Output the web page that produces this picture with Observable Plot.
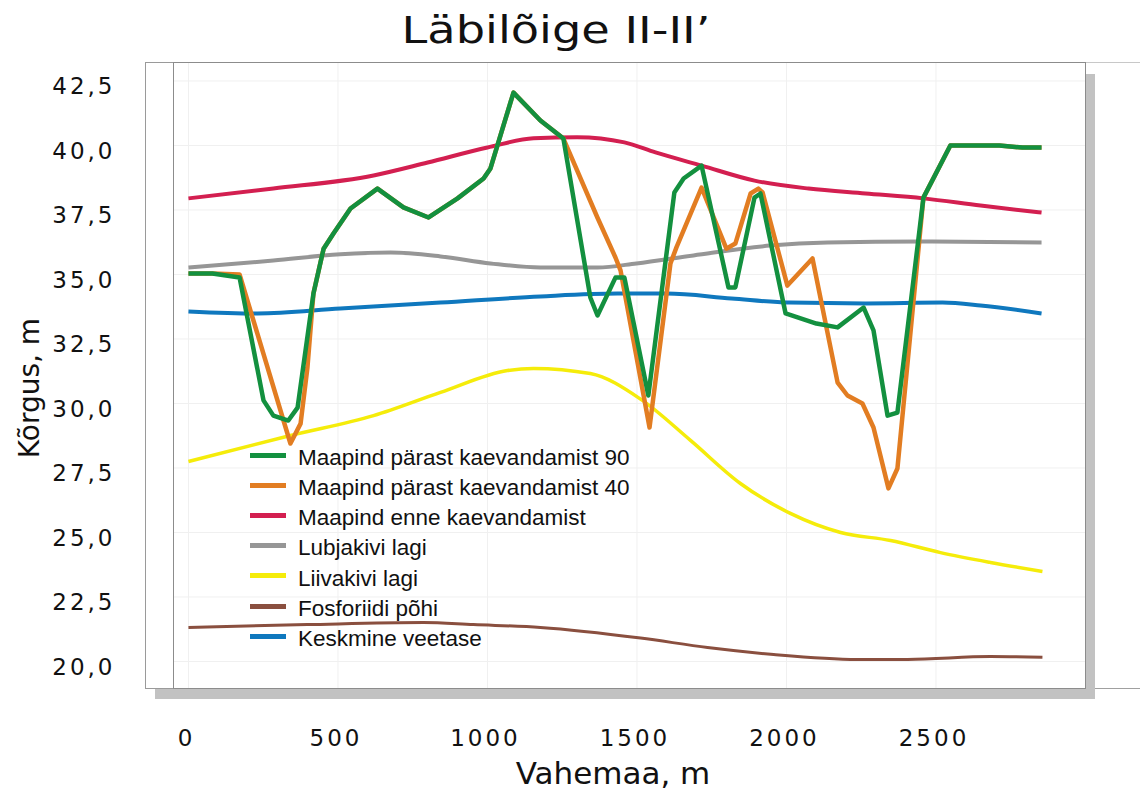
<!DOCTYPE html>
<html><head><meta charset="utf-8">
<script src="https://cdn.jsdelivr.net/npm/d3@7"></script>
<script src="https://cdn.jsdelivr.net/npm/@observablehq/plot@0.6"></script>
<style>
body{margin:0;background:#fff;}
#wrap{position:relative;width:1140px;height:795px;overflow:hidden;font-family:"DejaVu Sans",sans-serif;color:#111;}
.abs{position:absolute;}
#chart{position:absolute;left:0;top:0;}
#chart g[aria-label="y-axis tick label"], #chart g[aria-label="x-axis tick label"]{letter-spacing:3px;}
#title{position:absolute;left:556px;top:11px;font-size:37px;line-height:40px;white-space:nowrap;transform:translateX(-50%) scaleX(1.25);}
#ytitle{position:absolute;left:30px;top:388px;font-size:28px;line-height:30px;white-space:nowrap;transform:translate(-50%,-50%) rotate(-90deg);}
#xtitle{position:absolute;left:613px;top:756px;font-size:31px;line-height:34px;white-space:nowrap;transform:translateX(-50%);}
#legend{position:absolute;left:250px;top:440px;font-family:"Liberation Sans",Arial,sans-serif;font-size:22.5px;}
#legend .row{display:flex;align-items:center;height:30.2px;}
#legend .sw{width:36px;height:5px;}
#legend .lbl{margin-left:12px;line-height:1;position:relative;top:3px;white-space:nowrap;}
</style></head><body>
<div id="wrap">
  <div class="abs" style="left:155px;top:74px;width:940px;height:625px;background:#c2c2c2"></div>
  <div class="abs" style="left:145px;top:62px;width:941px;height:627px;border:1px solid #9a9a9a;background:#fff;box-sizing:border-box"></div>
  <div class="abs" style="left:1085px;top:62px;width:55px;height:1px;background:#c8c8c8"></div>
  <div class="abs" style="left:1095px;top:688px;width:45px;height:1px;background:#a0a0a0"></div>
  <div id="chart"></div>
  <div id="title">Läbilõige II-II’</div>
  <div id="ytitle">Kõrgus, m</div>
  <div id="xtitle">Vahemaa, m</div>
  <div id="legend"></div>
</div>
<script>
// ---- data ----
const seriesNames = [
  "Maapind pärast kaevandamist 90",
  "Maapind pärast kaevandamist 40",
  "Maapind enne kaevandamist",
  "Lubjakivi lagi",
  "Liivakivi lagi",
  "Fosforiidi põhi",
  "Keskmine veetase"
];
const seriesColors = ["#13903f","#e27d22","#d31f50","#969696","#f5ec0a","#8a4f3f","#0f78be"];

const yTicks = [20, 22.5, 25, 27.5, 30, 32.5, 35, 37.5, 40, 42.5];
const xTicks = [0, 500, 1000, 1500, 2000, 2500];

// Maapind pärast kaevandamist 90
const m90X = [0,80,171,251,284,334,365,418,452,485,542,632,719,803,900,987,1010,1087,1177,1254,1344,1368,1428,1458,1538,1625,1656,1716,1806,1829,1893,1913,1997,2100,2171,2258,2291,2338,2371,2458,2548,2712,2789,2853];
const m90Y = [35.04,35.04,34.88,30.12,29.53,29.34,29.84,34.26,36.0,36.59,37.56,38.33,37.6,37.21,37.95,38.72,39.11,42.05,40.97,40.27,34.11,33.41,34.88,34.88,30.31,38.18,38.72,39.22,34.5,34.5,37.98,38.14,33.49,33.1,32.95,33.72,32.83,29.53,29.65,37.98,40.0,40.0,39.92,39.92];
// Maapind pärast kaevandamist 40
const m40X = [0,80,171,341,375,398,418,452,485,542,632,719,803,900,987,1010,1087,1177,1254,1368,1428,1445,1542,1612,1632,1716,1799,1829,1880,1906,1920,2003,2087,2171,2204,2254,2291,2341,2371,2458,2548,2712,2789,2853];
const m40Y = [35.04,35.04,35.0,28.45,29.22,31.4,34.26,36.0,36.59,37.56,38.33,37.6,37.21,37.95,38.72,39.11,42.05,40.97,40.27,37.2,35.66,35.16,29.07,35.43,36.05,38.37,36.0,36.2,38.14,38.33,38.18,34.57,35.62,30.81,30.31,30.0,29.07,26.71,27.48,37.98,40.0,40.0,39.92,39.92];
// Maapind enne kaevandamist
const enneX = [0,284,619,800,1000,1154,1300,1458,1562,1716,1893,2074,2264,2458,2649,2853];
const enneY = [37.95,38.33,38.84,39.34,39.92,40.28,40.32,40.12,39.73,39.22,38.64,38.33,38.14,37.95,37.67,37.40];
// Lubjakivi lagi
const lubjX = [0,284,508,676,843,1010,1177,1368,1498,1689,1946,2137,2458,2853];
const lubjY = [35.27,35.54,35.78,35.85,35.70,35.43,35.27,35.27,35.43,35.74,36.12,36.24,36.28,36.24];
// Liivakivi lagi
const liivX = [0,341,619,843,1067,1154,1344,1512,1679,1846,2013,2181,2348,2515,2682,2856];
const liivY = [27.75,28.76,29.53,30.43,31.28,31.36,31.16,30.17,28.57,26.9,25.74,25.0,24.69,24.22,23.84,23.49];
// Fosforiidi põhi
const fosX = [0,398,786,953,1177,1512,1736,1957,2237,2405,2682,2856];
const fosY = [21.32,21.43,21.51,21.43,21.32,20.91,20.54,20.27,20.08,20.08,20.19,20.16];
// Keskmine veetase
const veeX = [0,231,508,843,1177,1435,1599,1816,2010,2264,2522,2649,2853];
const veeY = [33.57,33.49,33.68,33.91,34.15,34.26,34.26,34.07,33.91,33.88,33.91,33.80,33.49];

// ---- build table ----
const seriesData = [
  [seriesNames[0], m90X, m90Y, false, 4.5],
  [seriesNames[1], m40X, m40Y, false, 4.5],
  [seriesNames[2], enneX, enneY, true, 4],
  [seriesNames[3], lubjX, lubjY, true, 4],
  [seriesNames[4], liivX, liivY, true, 3.5],
  [seriesNames[5], fosX, fosY, true, 3],
  [seriesNames[6], veeX, veeY, true, 4]
];
const rows = s => s[1].map((x, i) => ({series: s[0], x, y: s[2][i]}));
const drawOrder = [4, 5, 3, 6, 2, 1, 0];

const lineMarks = drawOrder.map(i => {
  const s = seriesData[i];
  return Plot.line(rows(s), {
    x: "x", y: "y", stroke: "series", strokeWidth: s[4],
    curve: s[3] ? "monotone-x" : "linear", strokeLinejoin: "round", strokeLinecap: "butt"
  });
});

const fmtY = d => d.toFixed(1).replace(".", ",");
const fmtX = d => String(d);

const chart = Plot.plot({
  width: 1140, height: 795,
  marginLeft: 173, marginRight: 55, marginTop: 62, marginBottom: 107,
  x: {domain: [-50, 3000]},
  y: {domain: [18.953, 43.217]},
  color: {domain: seriesNames, range: seriesColors},
  style: {background: "transparent", fontFamily: "DejaVu Sans, sans-serif", color: "#111", overflow: "visible"},
  marks: [
    Plot.gridY(yTicks, {stroke: "#f0f0f0", strokeOpacity: 1}),
    Plot.gridX(xTicks, {stroke: "#f0f0f0", strokeOpacity: 1}),
    ...lineMarks,
    Plot.frame({stroke: "#8c8c8c"}),
    Plot.axisY(yTicks, {tickSize: 0, tickPadding: 58, tickFormat: fmtY, fontSize: 23, dy: 6, label: null}),
    Plot.axisX(xTicks, {tickSize: 0, tickPadding: 41, tickFormat: fmtX, fontSize: 23, dx: -2, label: null})
  ]
});
document.getElementById("chart").appendChild(chart);

// ---- legend ----
const legend = d3.select("#legend");
seriesNames.forEach((n, i) => {
  const r = legend.append("div").attr("class", "row");
  r.append("div").attr("class", "sw").style("background", seriesColors[i]);
  r.append("div").attr("class", "lbl").text(n);
});
</script>
</body></html>
